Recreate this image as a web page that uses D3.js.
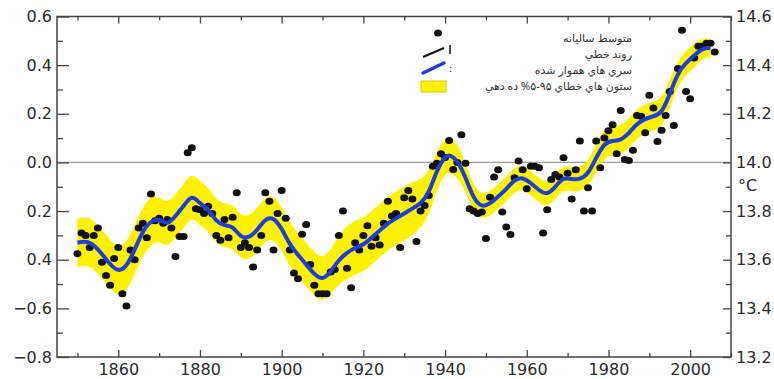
<!DOCTYPE html>
<html>
<head>
<meta charset="utf-8">
<script src="https://cdn.jsdelivr.net/npm/d3@7"></script>
<style>
  html, body { margin: 0; padding: 0; background: #fff; }
  svg { display: block; }
  .tick text { font-family: "DejaVu Sans", Verdana, sans-serif; font-size: 16px; fill: #2b2b2b; }
  .tick line { stroke: #444; stroke-width: 1.3; }
</style>
</head>
<body>
<div id="chart"></div>
<script>
// annual global mean anomaly (°C), one value per year from 1850
const annualStart = 1850;
const annualMean = [
  -0.375, -0.29, -0.30, -0.35, -0.30, -0.27, -0.41, -0.465, -0.505, -0.395,
  -0.35, -0.54, -0.59, -0.36, -0.40, -0.27, -0.25, -0.31, -0.13, -0.24,
  -0.23, -0.25, -0.235, -0.27, -0.387, -0.305, -0.305, 0.04, 0.06, -0.19,
  -0.195, -0.21, -0.18, -0.21, -0.30, -0.32, -0.235, -0.31, -0.225, -0.125,
  -0.35, -0.33, -0.35, -0.43, -0.36, -0.30, -0.125, -0.16, -0.36, -0.21,
  -0.115, -0.23, -0.36, -0.455, -0.478, -0.295, -0.255, -0.42, -0.505, -0.54,
  -0.54, -0.54, -0.45, -0.44, -0.30, -0.20, -0.435, -0.515, -0.33, -0.36,
  -0.30, -0.26, -0.345, -0.31, -0.34, -0.25, -0.16, -0.22, -0.21, -0.35,
  -0.145, -0.115, -0.15, -0.325, -0.20, -0.177, -0.136, -0.016, -0.003, 0.036,
  0.02, 0.09, -0.029, 0.0, 0.114, -0.003, -0.19, -0.20, -0.21, -0.204,
  -0.313, -0.143, -0.06, -0.03, -0.204, -0.266, -0.296, -0.063, 0.006, -0.03,
  -0.108, -0.016, -0.016, -0.022, -0.29, -0.195, -0.07, -0.05, -0.06, 0.019,
  -0.044, -0.15, -0.03, 0.088, -0.20, -0.104, -0.20, 0.088, -0.022, 0.10,
  0.13, 0.155, 0.036, 0.214, 0.012, 0.008, 0.05, 0.193, 0.19, 0.122,
  0.276, 0.224, 0.086, 0.132, 0.193, 0.292, 0.152, 0.386, 0.543, 0.292,
  0.262, 0.429, 0.478, 0.478, 0.49, 0.49, 0.454
];

// smoothed series and its 5-95% band half-width
const smoothYears = [1850, 1853, 1856, 1858, 1860, 1862, 1864, 1866, 1868, 1870,
  1872, 1874, 1876, 1878, 1880, 1882, 1884, 1886, 1888, 1890,
  1892, 1894, 1896, 1898, 1900, 1902, 1904, 1906, 1908, 1910,
  1912, 1914, 1916, 1918, 1920, 1922, 1924, 1926, 1928, 1930,
  1932, 1934, 1936, 1938, 1940, 1941, 1943, 1945, 1947, 1949,
  1951, 1953, 1955, 1957, 1959, 1961, 1963, 1965, 1967, 1969,
  1971, 1973, 1975, 1977, 1979, 1981, 1983, 1985, 1987, 1989,
  1991, 1993, 1995, 1997, 1999, 2001, 2003, 2005];
const smoothMean = [-0.33, -0.32, -0.375, -0.42, -0.45, -0.43, -0.36, -0.28, -0.24, -0.23,
  -0.26, -0.22, -0.18, -0.13, -0.17, -0.19, -0.245, -0.26, -0.26, -0.31,
  -0.31, -0.28, -0.23, -0.225, -0.27, -0.34, -0.38, -0.42, -0.46, -0.485,
  -0.45, -0.40, -0.37, -0.35, -0.34, -0.31, -0.28, -0.25, -0.23, -0.21,
  -0.19, -0.17, -0.13, -0.03, 0.025, 0.033, 0.01, -0.06, -0.15, -0.185,
  -0.17, -0.14, -0.11, -0.07, -0.06, -0.085, -0.115, -0.135, -0.10, -0.06,
  -0.07, -0.07, -0.05, 0.02, 0.08, 0.09, 0.09, 0.12, 0.16, 0.18,
  0.19, 0.20, 0.28, 0.37, 0.41, 0.44, 0.47, 0.47];
const bandHalf = [0.10, 0.10, 0.10, 0.10, 0.10, 0.10, 0.10, 0.10, 0.10, 0.09,
  0.09, 0.09, 0.09, 0.09, 0.09, 0.09, 0.09, 0.09, 0.09, 0.09,
  0.09, 0.09, 0.09, 0.09, 0.09, 0.09, 0.09, 0.09, 0.09, 0.09,
  0.09, 0.10, 0.11, 0.11, 0.11, 0.11, 0.11, 0.11, 0.11, 0.11,
  0.11, 0.10, 0.09, 0.08, 0.07, 0.07, 0.07, 0.06, 0.05, 0.05,
  0.05, 0.05, 0.05, 0.05, 0.05, 0.05, 0.05, 0.05, 0.05, 0.05,
  0.05, 0.05, 0.05, 0.06, 0.06, 0.06, 0.06, 0.06, 0.06, 0.06,
  0.06, 0.06, 0.06, 0.05, 0.05, 0.05, 0.04, 0.04];

// axis ticks and labels
const xMajor = [1860, 1880, 1900, 1920, 1940, 1960, 1980, 2000];
const xMinor = [1850, 1870, 1890, 1910, 1930, 1950, 1970, 1990, 2010];
const leftMajor = [0.6, 0.4, 0.2, 0.0, -0.2, -0.4, -0.6, -0.8];
const leftLabels = ["0.6", "0.4", "0.2", "0.0", "0.2", "0.4", "\u22120.6", "\u22120.8"];
const leftMinor = [0.5, 0.3, 0.1, -0.1, -0.3, -0.5, -0.7];
const rightMajor = [14.6, 14.4, 14.2, 14.0, 13.8, 13.6, 13.4, 13.2];
const rightMinor = [14.5, 14.3, 14.1, 13.9, 13.7, 13.5, 13.3];
const legendLabels = ["متوسط ساليانه", "روند خطي", "سري هاي هموار شده", "ستون هاي خطاي ۹۵-۵% ده دهي"];

const width = 774, height = 379;
const margin = {top: 16.5, right: 43, bottom: 22, left: 57};

const svg = d3.select("#chart").append("svg")
  .attr("width", width)
  .attr("height", height);

const x = d3.scaleLinear().domain([1845, 2010]).range([margin.left, width - margin.right]);
const y = d3.scaleLinear().domain([-0.8, 0.6]).range([height - margin.bottom, margin.top]);
const y2 = d3.scaleLinear().domain([13.2, 14.6]).range([height - margin.bottom, margin.top]);

const annual = annualMean.map((v, i) => ({year: annualStart + i, value: v}));
const smooth = smoothYears.map((yr, i) => ({year: yr, value: smoothMean[i], half: bandHalf[i]}));

// zero line
svg.append("line")
  .attr("x1", x.range()[0]).attr("x2", x.range()[1])
  .attr("y1", y(0)).attr("y2", y(0))
  .attr("stroke", "#9a9a9a").attr("stroke-width", 1.2);

// uncertainty band
const area = d3.area()
  .x(d => x(d.year))
  .y0(d => y(d.value - d.half))
  .y1(d => y(d.value + d.half))
  .curve(d3.curveBasis);
svg.append("path").datum(smooth)
  .attr("d", area)
  .attr("fill", "#fff200");

// annual dots
svg.append("g").selectAll("ellipse")
  .data(annual)
  .enter().append("ellipse")
    .attr("cx", d => x(d.year))
    .attr("cy", d => y(d.value))
    .attr("rx", 4)
    .attr("ry", 3.5)
    .attr("fill", "#111");

// smoothed line
const line = d3.line()
  .x(d => x(d.year))
  .y(d => y(d.value))
  .curve(d3.curveBasis);
svg.append("path").datum(smooth)
  .attr("d", line)
  .attr("fill", "none")
  .attr("stroke", "#1c3fd9")
  .attr("stroke-width", 4)
  .attr("stroke-linejoin", "round");

// axes (ticks inward)
const bottom = height - margin.bottom;
svg.append("g").attr("transform", "translate(0," + bottom + ")")
  .call(d3.axisBottom(x).tickValues(xMajor).tickSize(-7).tickPadding(7).tickFormat(d3.format("d")));
svg.append("g").attr("transform", "translate(0," + bottom + ")")
  .call(d3.axisBottom(x).tickValues(xMinor).tickSize(-4).tickFormat(""));
svg.append("g").attr("transform", "translate(0," + margin.top + ")")
  .call(d3.axisTop(x).tickValues(xMajor).tickSize(-7).tickFormat(""));
svg.append("g").attr("transform", "translate(0," + margin.top + ")")
  .call(d3.axisTop(x).tickValues(xMinor).tickSize(-4).tickFormat(""));

svg.append("g").attr("transform", "translate(" + margin.left + ",0)")
  .call(d3.axisLeft(y).tickValues(leftMajor).tickSize(-12).tickPadding(5).tickFormat((d, i) => leftLabels[i]));
svg.append("g").attr("transform", "translate(" + margin.left + ",0)")
  .call(d3.axisLeft(y).tickValues(leftMinor).tickSize(-6).tickFormat(""));

const right = width - margin.right;
svg.append("g").attr("transform", "translate(" + right + ",0)")
  .call(d3.axisRight(y2).tickValues(rightMajor).tickSize(-8).tickPadding(5).tickFormat(d3.format(".1f")));
svg.append("g").attr("transform", "translate(" + right + ",0)")
  .call(d3.axisRight(y2).tickValues(rightMinor).tickSize(-5).tickFormat(""));

svg.selectAll(".domain").remove();

// frame
svg.append("rect")
  .attr("x", margin.left).attr("y", margin.top)
  .attr("width", right - margin.left).attr("height", bottom - margin.top)
  .attr("fill", "none").attr("stroke", "#444").attr("stroke-width", 1.5);

svg.append("text")
  .attr("x", right + 7).attr("y", y(0) + 29)
  .attr("font-family", "DejaVu Sans, Verdana, sans-serif")
  .attr("font-size", 16).attr("fill", "#2b2b2b")
  .text("°C");

// legend
const lg = svg.append("g");
lg.append("ellipse").attr("cx", 438).attr("cy", 33).attr("rx", 4).attr("ry", 3.5).attr("fill", "#111");
lg.append("line").attr("x1", 423).attr("y1", 57).attr("x2", 444).attr("y2", 48)
  .attr("stroke", "#111").attr("stroke-width", 2);
lg.append("line").attr("x1", 450).attr("y1", 45).attr("x2", 450).attr("y2", 54)
  .attr("stroke", "#111").attr("stroke-width", 1.5);
lg.append("line").attr("x1", 423).attr("y1", 73).attr("x2", 444).attr("y2", 63)
  .attr("stroke", "#1c3fd9").attr("stroke-width", 3.5).attr("stroke-linecap", "round");
lg.append("text").attr("x", 449).attr("y", 72)
  .attr("font-family", "DejaVu Sans, sans-serif").attr("font-size", 10).attr("fill", "#222").text(":");
lg.append("rect").attr("x", 421).attr("y", 81).attr("width", 25).attr("height", 11)
  .attr("fill", "#fff200").attr("stroke", "#d8c400").attr("stroke-width", 1);

lg.selectAll("text.leg")
  .data(legendLabels)
  .enter().append("text")
    .attr("class", "leg")
    .attr("x", 632)
    .attr("y", (d, i) => 42 + i * 16)
    .attr("direction", "rtl")
    .attr("text-anchor", "start")
    .attr("font-family", "Noto Sans, DejaVu Sans, sans-serif")
    .attr("font-size", 11)
    .attr("fill", "#333")
    .text(d => d);
</script>
</body>
</html>
